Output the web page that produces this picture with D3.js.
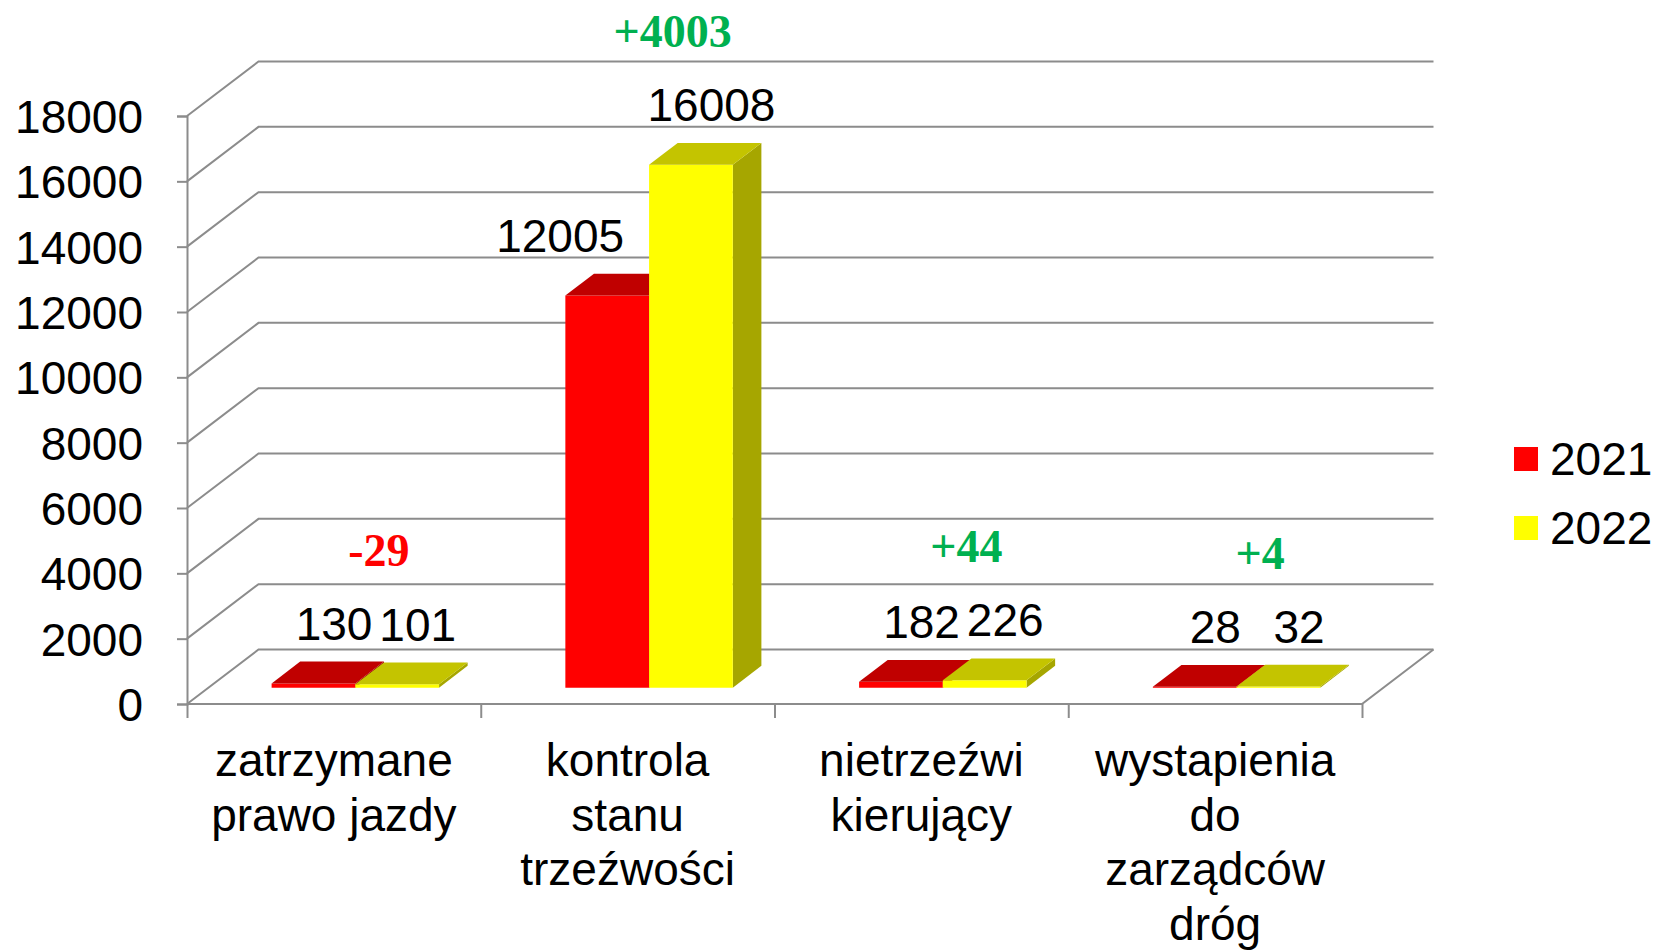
<!DOCTYPE html>
<html>
<head>
<meta charset="utf-8">
<script src="https://cdn.jsdelivr.net/npm/d3@7"></script>
<style>
  body { margin: 0; background: #fff; }
  text { font-family: "Liberation Sans", Arial, sans-serif; }
</style>
</head>
<body>
<svg id="chart"></svg>
<script>
const categories = [
  ["zatrzymane", "prawo jazdy"],
  ["kontrola", "stanu", "trzeźwości"],
  ["nietrzeźwi", "kierujący"],
  ["wystapienia", "do", "zarządców", "dróg"],
];
const seriesNames = ["2021", "2022"];
const values2021 = [130, 12005, 182, 28];
const values2022 = [101, 16008, 226, 32];
const diffs = ["-29", "+4003", "+44", "+4"];
const yTicks = [0, 2000, 4000, 6000, 8000, 10000, 12000, 14000, 16000, 18000];

const width = 1661;
const height = 951;
const margin = { left: 187, right: 299, top: 116, bottom: 247 };
// depth of the 3d box, in px
const depth = { dx: 71.5, dy: -54.5 };
const barZ = [0.3, 0.7];

const colors = {
  front: ["#ff0000", "#ffff00"],
  top: ["#c00000", "#c4c400"],
  side: ["#a00000", "#a6a600"],
};
const gridColor = "#8c8c8c";

const svg = d3.select("#chart").attr("width", width).attr("height", height);

const xScale = d3
  .scaleBand()
  .domain(d3.range(categories.length))
  .range([margin.left, width - margin.right]);
const xEdge = d3
  .scaleLinear()
  .domain([0, categories.length])
  .range([margin.left, width - margin.right]);
const yScale = d3
  .scaleLinear()
  .domain([0, 18000])
  .range([height - margin.bottom, margin.top]);

const barW = xScale.bandwidth() * 0.285;
const xInner = d3.scaleBand().domain(seriesNames).range([0, 2 * barW]);

function proj(x, y, z) {
  return [x + depth.dx * z, y + depth.dy * z];
}
function poly(points) {
  return points.map((p) => p.join(",")).join(" ");
}

// walls and gridlines
const grid = svg.append("g");
const x0 = margin.left;
const x1 = width - margin.right;
yTicks.forEach(function (v) {
  const y = yScale(v);
  grid
    .append("polyline")
    .attr("points", poly([[x0, y], proj(x0, y, 1), proj(x1, y, 1)]))
    .attr("fill", "none")
    .attr("stroke", gridColor)
    .attr("stroke-width", 2);
});
grid
  .append("polyline")
  .attr("points", poly([[x0, yScale(0)], [x1, yScale(0)], proj(x1, yScale(0), 1)]))
  .attr("fill", "none")
  .attr("stroke", gridColor)
  .attr("stroke-width", 2);

// y axis
const axisLeft = d3
  .axisLeft(yScale)
  .tickValues(yTicks)
  .tickFormat(d3.format("d"))
  .tickSize(10)
  .tickPadding(34);
const gy = svg
  .append("g")
  .attr("transform", "translate(" + margin.left + ",0)")
  .call(axisLeft);
gy.selectAll("path, line").attr("stroke", gridColor).attr("stroke-width", 2);
gy.selectAll("text")
  .attr("font-size", 46)
  .attr("font-family", "Liberation Sans, Arial, sans-serif")
  .attr("fill", "#000")
  .attr("dy", "0.36em");

// x axis (tick marks at category boundaries)
const axisBottom = d3
  .axisBottom(xEdge)
  .tickValues(d3.range(categories.length + 1))
  .tickSize(14)
  .tickFormat("");
const gx = svg
  .append("g")
  .attr("transform", "translate(0," + yScale(0) + ")")
  .call(axisBottom);
gx.select("path").remove();
gx.selectAll("line").attr("stroke", gridColor).attr("stroke-width", 2);

// bars
const bars = svg.append("g");
categories.forEach(function (c, ci) {
  const vals = [values2021[ci], values2022[ci]];
  const start = xScale(ci) + (xScale.bandwidth() - 2 * barW) / 2;
  seriesNames.forEach(function (s, si) {
    const bx0 = start + xInner(s);
    const bx1 = bx0 + barW;
    const yt = yScale(vals[si]);
    const yb = yScale(0);
    const [za, zb] = barZ;
    bars
      .append("polygon")
      .attr("points", poly([proj(bx1, yb, za), proj(bx1, yb, zb), proj(bx1, yt, zb), proj(bx1, yt, za)]))
      .attr("fill", colors.side[si]);
    bars
      .append("polygon")
      .attr("points", poly([proj(bx0, yb, za), proj(bx1, yb, za), proj(bx1, yt, za), proj(bx0, yt, za)]))
      .attr("fill", colors.front[si]);
    bars
      .append("polygon")
      .attr("points", poly([proj(bx0, yt, za), proj(bx1, yt, za), proj(bx1, yt, zb), proj(bx0, yt, zb)]))
      .attr("fill", colors.top[si]);
  });
});

// value labels and difference labels
const labels = svg.append("g");
categories.forEach(function (c, ci) {
  const vals = [values2021[ci], values2022[ci]];
  const start = xScale(ci) + (xScale.bandwidth() - 2 * barW) / 2;
  const baselines = [];
  seriesNames.forEach(function (s, si) {
    const bx0 = start + xInner(s);
    const topBack = proj(bx0, yScale(vals[si]), barZ[1])[1];
    const base = topBack - 22;
    baselines.push(base);
    let tx = bx0 + barW / 2 + 42;
    let anchor = "middle";
    // keep the 2021 label clear of a much taller 2022 bar
    if (si === 0 && yScale(vals[1]) + depth.dy * barZ[0] < base - 30) {
      tx = proj(start + xInner(seriesNames[1]), 0, barZ[0])[0] - 25;
      anchor = "end";
    }
    labels
      .append("text")
      .attr("x", tx)
      .attr("y", base)
      .attr("text-anchor", anchor)
      .attr("font-size", 46)
      .attr("fill", "#000")
      .text(vals[si]);
  });
  labels
    .append("text")
    .attr("x", xScale(ci) + xScale.bandwidth() / 2 + 45)
    .attr("y", d3.min(baselines) - 74)
    .attr("text-anchor", "middle")
    .attr("font-size", 46)
    .attr("font-weight", "bold")
    .style("font-family", "Liberation Serif, Times New Roman, serif")
    .attr("fill", diffs[ci][0] === "-" ? "#ff0000" : "#00b050")
    .text(diffs[ci]);
});

// category labels
const catG = svg.append("g");
categories.forEach(function (lines, ci) {
  const t = catG
    .append("text")
    .attr("x", xScale(ci) + xScale.bandwidth() / 2)
    .attr("y", 776)
    .attr("text-anchor", "middle")
    .attr("font-size", 46)
    .attr("fill", "#000");
  lines.forEach(function (l, li) {
    t.append("tspan")
      .attr("x", xScale(ci) + xScale.bandwidth() / 2)
      .attr("dy", li === 0 ? 0 : 54.5)
      .text(l);
  });
});

// legend
const legend = svg
  .selectAll(".legend")
  .data(seriesNames)
  .join("g")
  .attr("class", "legend")
  .attr("transform", function (d, i) {
    return "translate(1514," + (447 + i * 69) + ")";
  });
legend
  .append("rect")
  .attr("width", 24)
  .attr("height", 24)
  .attr("fill", function (d, i) {
    return colors.front[i];
  });
legend
  .append("text")
  .attr("x", 36)
  .attr("y", 28)
  .attr("font-size", 46)
  .attr("fill", "#000")
  .text(function (d) {
    return d;
  });
</script>
</body>
</html>
